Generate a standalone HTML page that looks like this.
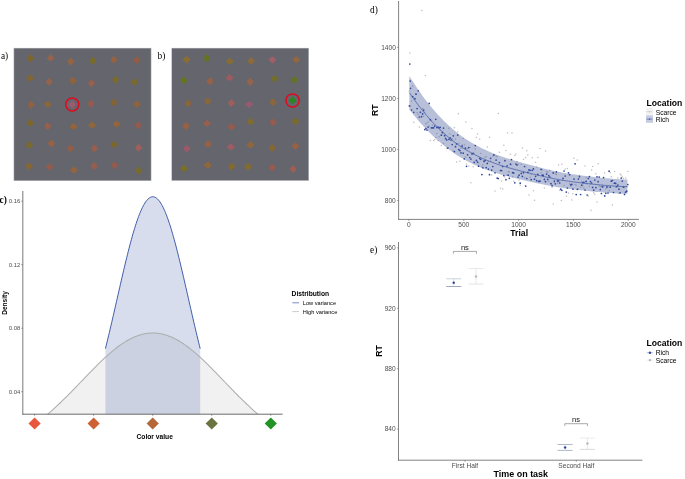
<!DOCTYPE html>
<html lang="en">
<head>
<meta charset="utf-8">
<title>Figure</title>
<style>
html,body{margin:0;padding:0;background:#fff;}
body{width:685px;height:479px;overflow:hidden;}
svg{display:block;}
text{font-family:"Liberation Sans", Arial, sans-serif;}
.serif{font-family:"Liberation Serif", "Times New Roman", serif;}
.tick{font-size:6.6px;fill:#4d4d4d;}
.tickc{font-size:5.9px;fill:#4d4d4d;}
.ttl{font-size:8.6px;font-weight:bold;fill:#000;}
.ttlc{font-size:6.7px;font-weight:bold;fill:#000;}
.leg{font-size:6.7px;fill:#000;}
.legc{font-size:5.65px;fill:#000;}
</style>
</head>
<body>
<svg width="685" height="479" viewBox="0 0 685 479">
<rect x="0" y="0" width="685" height="479" fill="#ffffff"/>

<rect x="13.6" y="47.9" width="137.8" height="133.0" fill="#b4b5ba"/>
<rect x="14.2" y="48.5" width="136.6" height="131.8" fill="#64656d"/>
<path d="M-2.85,-2.85 L0.15,-2.85 Q2.85,-2.85 2.85,-0.15 L2.85,2.85 L-2.85,2.85 Z" fill="#7e672d" transform="translate(30.3,58.3) rotate(223)"/>
<path d="M-2.85,-2.85 L0.15,-2.85 Q2.85,-2.85 2.85,-0.15 L2.85,2.85 L-2.85,2.85 Z" fill="#93634e" transform="translate(50.7,58.1) rotate(130)"/>
<path d="M-2.85,-2.85 L0.15,-2.85 Q2.85,-2.85 2.85,-0.15 L2.85,2.85 L-2.85,2.85 Z" fill="#936442" transform="translate(70.6,61.5) rotate(227)"/>
<path d="M-2.85,-2.85 L0.15,-2.85 Q2.85,-2.85 2.85,-0.15 L2.85,2.85 L-2.85,2.85 Z" fill="#796b2e" transform="translate(92.9,60.8) rotate(39)"/>
<path d="M-2.85,-2.85 L0.15,-2.85 Q2.85,-2.85 2.85,-0.15 L2.85,2.85 L-2.85,2.85 Z" fill="#936342" transform="translate(113.7,59.7) rotate(226)"/>
<path d="M-2.85,-2.85 L0.15,-2.85 Q2.85,-2.85 2.85,-0.15 L2.85,2.85 L-2.85,2.85 Z" fill="#935d45" transform="translate(136.8,60.4) rotate(133)"/>
<path d="M-2.85,-2.85 L0.15,-2.85 Q2.85,-2.85 2.85,-0.15 L2.85,2.85 L-2.85,2.85 Z" fill="#816733" transform="translate(30.3,78.3) rotate(129)"/>
<path d="M-2.85,-2.85 L0.15,-2.85 Q2.85,-2.85 2.85,-0.15 L2.85,2.85 L-2.85,2.85 Z" fill="#93634e" transform="translate(49.0,81.8) rotate(225)"/>
<path d="M-2.85,-2.85 L0.15,-2.85 Q2.85,-2.85 2.85,-0.15 L2.85,2.85 L-2.85,2.85 Z" fill="#90633d" transform="translate(72.8,80.8) rotate(219)"/>
<path d="M-2.85,-2.85 L0.15,-2.85 Q2.85,-2.85 2.85,-0.15 L2.85,2.85 L-2.85,2.85 Z" fill="#965f4e" transform="translate(91.4,83.3) rotate(224)"/>
<path d="M-2.85,-2.85 L0.15,-2.85 Q2.85,-2.85 2.85,-0.15 L2.85,2.85 L-2.85,2.85 Z" fill="#796b2e" transform="translate(115.5,79.8) rotate(219)"/>
<path d="M-2.85,-2.85 L0.15,-2.85 Q2.85,-2.85 2.85,-0.15 L2.85,2.85 L-2.85,2.85 Z" fill="#796b2e" transform="translate(134.5,82.2) rotate(129)"/>
<path d="M-2.85,-2.85 L0.15,-2.85 Q2.85,-2.85 2.85,-0.15 L2.85,2.85 L-2.85,2.85 Z" fill="#906245" transform="translate(30.9,104.9) rotate(224)"/>
<path d="M-2.85,-2.85 L0.15,-2.85 Q2.85,-2.85 2.85,-0.15 L2.85,2.85 L-2.85,2.85 Z" fill="#8a673b" transform="translate(47.8,104.2) rotate(-40)"/>
<path d="M-2.85,-2.85 L0.15,-2.85 Q2.85,-2.85 2.85,-0.15 L2.85,2.85 L-2.85,2.85 Z" fill="#9a5c6e" transform="translate(72.3,104.6) rotate(40)"/>
<path d="M-2.85,-2.85 L0.15,-2.85 Q2.85,-2.85 2.85,-0.15 L2.85,2.85 L-2.85,2.85 Z" fill="#965b4c" transform="translate(91.1,103.8) rotate(41)"/>
<path d="M-2.85,-2.85 L0.15,-2.85 Q2.85,-2.85 2.85,-0.15 L2.85,2.85 L-2.85,2.85 Z" fill="#856337" transform="translate(113.6,102.4) rotate(227)"/>
<path d="M-2.85,-2.85 L0.15,-2.85 Q2.85,-2.85 2.85,-0.15 L2.85,2.85 L-2.85,2.85 Z" fill="#90633d" transform="translate(137.0,104.2) rotate(231)"/>
<path d="M-2.85,-2.85 L0.15,-2.85 Q2.85,-2.85 2.85,-0.15 L2.85,2.85 L-2.85,2.85 Z" fill="#7e672d" transform="translate(30.3,123.2) rotate(136)"/>
<path d="M-2.85,-2.85 L0.15,-2.85 Q2.85,-2.85 2.85,-0.15 L2.85,2.85 L-2.85,2.85 Z" fill="#965f4e" transform="translate(47.6,126.1) rotate(224)"/>
<path d="M-2.85,-2.85 L0.15,-2.85 Q2.85,-2.85 2.85,-0.15 L2.85,2.85 L-2.85,2.85 Z" fill="#93643b" transform="translate(73.5,126.7) rotate(142)"/>
<path d="M-2.85,-2.85 L0.15,-2.85 Q2.85,-2.85 2.85,-0.15 L2.85,2.85 L-2.85,2.85 Z" fill="#90673b" transform="translate(92.1,125.3) rotate(129)"/>
<path d="M-2.85,-2.85 L0.15,-2.85 Q2.85,-2.85 2.85,-0.15 L2.85,2.85 L-2.85,2.85 Z" fill="#93643d" transform="translate(116.7,124.1) rotate(-40)"/>
<path d="M-2.85,-2.85 L0.15,-2.85 Q2.85,-2.85 2.85,-0.15 L2.85,2.85 L-2.85,2.85 Z" fill="#935b4e" transform="translate(138.2,125.3) rotate(42)"/>
<path d="M-2.85,-2.85 L0.15,-2.85 Q2.85,-2.85 2.85,-0.15 L2.85,2.85 L-2.85,2.85 Z" fill="#796b2e" transform="translate(29.2,145.1) rotate(220)"/>
<path d="M-2.85,-2.85 L0.15,-2.85 Q2.85,-2.85 2.85,-0.15 L2.85,2.85 L-2.85,2.85 Z" fill="#966245" transform="translate(51.5,143.5) rotate(40)"/>
<path d="M-2.85,-2.85 L0.15,-2.85 Q2.85,-2.85 2.85,-0.15 L2.85,2.85 L-2.85,2.85 Z" fill="#935e46" transform="translate(70.4,148.6) rotate(132)"/>
<path d="M-2.85,-2.85 L0.15,-2.85 Q2.85,-2.85 2.85,-0.15 L2.85,2.85 L-2.85,2.85 Z" fill="#965f4e" transform="translate(94.4,148.4) rotate(229)"/>
<path d="M-2.85,-2.85 L0.15,-2.85 Q2.85,-2.85 2.85,-0.15 L2.85,2.85 L-2.85,2.85 Z" fill="#7e672d" transform="translate(114.2,144.7) rotate(131)"/>
<path d="M-2.85,-2.85 L0.15,-2.85 Q2.85,-2.85 2.85,-0.15 L2.85,2.85 L-2.85,2.85 Z" fill="#9e605a" transform="translate(138.5,147.8) rotate(226)"/>
<path d="M-2.85,-2.85 L0.15,-2.85 Q2.85,-2.85 2.85,-0.15 L2.85,2.85 L-2.85,2.85 Z" fill="#856734" transform="translate(28.9,166.2) rotate(227)"/>
<path d="M-2.85,-2.85 L0.15,-2.85 Q2.85,-2.85 2.85,-0.15 L2.85,2.85 L-2.85,2.85 Z" fill="#935b4e" transform="translate(49.6,166.9) rotate(-47)"/>
<path d="M-2.85,-2.85 L0.15,-2.85 Q2.85,-2.85 2.85,-0.15 L2.85,2.85 L-2.85,2.85 Z" fill="#93643d" transform="translate(73.9,170.2) rotate(136)"/>
<path d="M-2.85,-2.85 L0.15,-2.85 Q2.85,-2.85 2.85,-0.15 L2.85,2.85 L-2.85,2.85 Z" fill="#965e4e" transform="translate(94.3,165.9) rotate(39)"/>
<path d="M-2.85,-2.85 L0.15,-2.85 Q2.85,-2.85 2.85,-0.15 L2.85,2.85 L-2.85,2.85 Z" fill="#935b4e" transform="translate(114.5,165.3) rotate(219)"/>
<path d="M-2.85,-2.85 L0.15,-2.85 Q2.85,-2.85 2.85,-0.15 L2.85,2.85 L-2.85,2.85 Z" fill="#796b2e" transform="translate(138.6,170.5) rotate(221)"/>
<circle cx="72.3" cy="104.5" r="6.5" fill="none" stroke="#e20a1c" stroke-width="1.5"/>
<rect x="171.4" y="47.9" width="137.5" height="132.9" fill="#b4b5ba"/>
<rect x="172.0" y="48.5" width="136.3" height="131.7" fill="#64656d"/>
<path d="M-2.85,-2.85 L0.15,-2.85 Q2.85,-2.85 2.85,-0.15 L2.85,2.85 L-2.85,2.85 Z" fill="#8a6c34" transform="translate(186.6,59.4) rotate(-42)"/>
<path d="M-2.85,-2.85 L0.15,-2.85 Q2.85,-2.85 2.85,-0.15 L2.85,2.85 L-2.85,2.85 Z" fill="#627323" transform="translate(207.0,58.1) rotate(44)"/>
<path d="M-2.85,-2.85 L0.15,-2.85 Q2.85,-2.85 2.85,-0.15 L2.85,2.85 L-2.85,2.85 Z" fill="#876c33" transform="translate(229.9,61.4) rotate(132)"/>
<path d="M-2.85,-2.85 L0.15,-2.85 Q2.85,-2.85 2.85,-0.15 L2.85,2.85 L-2.85,2.85 Z" fill="#8b6a3b" transform="translate(251.0,61.1) rotate(136)"/>
<path d="M-2.85,-2.85 L0.15,-2.85 Q2.85,-2.85 2.85,-0.15 L2.85,2.85 L-2.85,2.85 Z" fill="#9e5f69" transform="translate(272.4,59.6) rotate(-46)"/>
<path d="M-2.85,-2.85 L0.15,-2.85 Q2.85,-2.85 2.85,-0.15 L2.85,2.85 L-2.85,2.85 Z" fill="#906740" transform="translate(296.2,59.6) rotate(-48)"/>
<path d="M-2.85,-2.85 L0.15,-2.85 Q2.85,-2.85 2.85,-0.15 L2.85,2.85 L-2.85,2.85 Z" fill="#627323" transform="translate(184.0,80.4) rotate(49)"/>
<path d="M-2.85,-2.85 L0.15,-2.85 Q2.85,-2.85 2.85,-0.15 L2.85,2.85 L-2.85,2.85 Z" fill="#966245" transform="translate(210.2,81.3) rotate(48)"/>
<path d="M-2.85,-2.85 L0.15,-2.85 Q2.85,-2.85 2.85,-0.15 L2.85,2.85 L-2.85,2.85 Z" fill="#9c5b61" transform="translate(229.5,77.9) rotate(131)"/>
<path d="M-2.85,-2.85 L0.15,-2.85 Q2.85,-2.85 2.85,-0.15 L2.85,2.85 L-2.85,2.85 Z" fill="#96634c" transform="translate(250.3,81.9) rotate(46)"/>
<path d="M-2.85,-2.85 L0.15,-2.85 Q2.85,-2.85 2.85,-0.15 L2.85,2.85 L-2.85,2.85 Z" fill="#726f2a" transform="translate(274.6,78.6) rotate(-45)"/>
<path d="M-2.85,-2.85 L0.15,-2.85 Q2.85,-2.85 2.85,-0.15 L2.85,2.85 L-2.85,2.85 Z" fill="#627323" transform="translate(294.4,80.0) rotate(140)"/>
<path d="M-2.85,-2.85 L0.15,-2.85 Q2.85,-2.85 2.85,-0.15 L2.85,2.85 L-2.85,2.85 Z" fill="#8a643b" transform="translate(188.1,103.4) rotate(228)"/>
<path d="M-2.85,-2.85 L0.15,-2.85 Q2.85,-2.85 2.85,-0.15 L2.85,2.85 L-2.85,2.85 Z" fill="#87673b" transform="translate(207.6,101.2) rotate(222)"/>
<path d="M-2.85,-2.85 L0.15,-2.85 Q2.85,-2.85 2.85,-0.15 L2.85,2.85 L-2.85,2.85 Z" fill="#9e5e5c" transform="translate(231.3,103.1) rotate(232)"/>
<path d="M-2.85,-2.85 L0.15,-2.85 Q2.85,-2.85 2.85,-0.15 L2.85,2.85 L-2.85,2.85 Z" fill="#965b6f" transform="translate(249.1,104.2) rotate(-50)"/>
<path d="M-2.85,-2.85 L0.15,-2.85 Q2.85,-2.85 2.85,-0.15 L2.85,2.85 L-2.85,2.85 Z" fill="#8a673b" transform="translate(272.8,102.3) rotate(224)"/>
<path d="M-2.85,-2.85 L0.15,-2.85 Q2.85,-2.85 2.85,-0.15 L2.85,2.85 L-2.85,2.85 Z" fill="#2a8723" transform="translate(292.6,100.6) rotate(139)"/>
<path d="M-2.85,-2.85 L0.15,-2.85 Q2.85,-2.85 2.85,-0.15 L2.85,2.85 L-2.85,2.85 Z" fill="#966245" transform="translate(186.2,125.9) rotate(40)"/>
<path d="M-2.85,-2.85 L0.15,-2.85 Q2.85,-2.85 2.85,-0.15 L2.85,2.85 L-2.85,2.85 Z" fill="#965f4e" transform="translate(207.0,123.5) rotate(135)"/>
<path d="M-2.85,-2.85 L0.15,-2.85 Q2.85,-2.85 2.85,-0.15 L2.85,2.85 L-2.85,2.85 Z" fill="#965b4e" transform="translate(231.4,126.8) rotate(-51)"/>
<path d="M-2.85,-2.85 L0.15,-2.85 Q2.85,-2.85 2.85,-0.15 L2.85,2.85 L-2.85,2.85 Z" fill="#816b2e" transform="translate(250.5,121.9) rotate(137)"/>
<path d="M-2.85,-2.85 L0.15,-2.85 Q2.85,-2.85 2.85,-0.15 L2.85,2.85 L-2.85,2.85 Z" fill="#965b4e" transform="translate(272.8,122.3) rotate(229)"/>
<path d="M-2.85,-2.85 L0.15,-2.85 Q2.85,-2.85 2.85,-0.15 L2.85,2.85 L-2.85,2.85 Z" fill="#796b2e" transform="translate(295.4,121.4) rotate(136)"/>
<path d="M-2.85,-2.85 L0.15,-2.85 Q2.85,-2.85 2.85,-0.15 L2.85,2.85 L-2.85,2.85 Z" fill="#9b596c" transform="translate(186.7,148.7) rotate(230)"/>
<path d="M-2.85,-2.85 L0.15,-2.85 Q2.85,-2.85 2.85,-0.15 L2.85,2.85 L-2.85,2.85 Z" fill="#966245" transform="translate(208.2,144.3) rotate(132)"/>
<path d="M-2.85,-2.85 L0.15,-2.85 Q2.85,-2.85 2.85,-0.15 L2.85,2.85 L-2.85,2.85 Z" fill="#9e5c64" transform="translate(230.8,147.1) rotate(138)"/>
<path d="M-2.85,-2.85 L0.15,-2.85 Q2.85,-2.85 2.85,-0.15 L2.85,2.85 L-2.85,2.85 Z" fill="#90673b" transform="translate(250.5,145.0) rotate(136)"/>
<path d="M-2.85,-2.85 L0.15,-2.85 Q2.85,-2.85 2.85,-0.15 L2.85,2.85 L-2.85,2.85 Z" fill="#856734" transform="translate(272.1,148.0) rotate(226)"/>
<path d="M-2.85,-2.85 L0.15,-2.85 Q2.85,-2.85 2.85,-0.15 L2.85,2.85 L-2.85,2.85 Z" fill="#966245" transform="translate(295.4,146.0) rotate(-46)"/>
<path d="M-2.85,-2.85 L0.15,-2.85 Q2.85,-2.85 2.85,-0.15 L2.85,2.85 L-2.85,2.85 Z" fill="#796f28" transform="translate(184.0,168.7) rotate(140)"/>
<path d="M-2.85,-2.85 L0.15,-2.85 Q2.85,-2.85 2.85,-0.15 L2.85,2.85 L-2.85,2.85 Z" fill="#90673b" transform="translate(207.8,165.3) rotate(141)"/>
<path d="M-2.85,-2.85 L0.15,-2.85 Q2.85,-2.85 2.85,-0.15 L2.85,2.85 L-2.85,2.85 Z" fill="#816b2e" transform="translate(231.5,166.6) rotate(225)"/>
<path d="M-2.85,-2.85 L0.15,-2.85 Q2.85,-2.85 2.85,-0.15 L2.85,2.85 L-2.85,2.85 Z" fill="#816b2e" transform="translate(248.3,166.9) rotate(137)"/>
<path d="M-2.85,-2.85 L0.15,-2.85 Q2.85,-2.85 2.85,-0.15 L2.85,2.85 L-2.85,2.85 Z" fill="#965b4e" transform="translate(272.1,167.6) rotate(219)"/>
<path d="M-2.85,-2.85 L0.15,-2.85 Q2.85,-2.85 2.85,-0.15 L2.85,2.85 L-2.85,2.85 Z" fill="#9e5e54" transform="translate(293.2,169.0) rotate(48)"/>
<circle cx="292.6" cy="100.5" r="6.6" fill="none" stroke="#e20a1c" stroke-width="1.5"/>
<text class="serif" x="0.9" y="59.3" font-size="9.3">a)</text>
<text class="serif" x="157.6" y="59.3" font-size="9.3">b)</text>
<text class="serif" x="-0.4" y="202.8" font-size="9.3" font-weight="bold">c)</text>
<text class="serif" x="370" y="12.6" font-size="9.3">d)</text>
<text class="serif" x="370" y="253" font-size="9.3">e)</text>
<polygon points="47.71,414.20 49.02,413.07 50.33,411.93 51.65,410.77 52.96,409.59 54.28,408.40 55.59,407.20 56.90,405.98 58.22,404.74 59.53,403.50 60.84,402.24 62.16,400.96 63.47,399.68 64.78,398.39 66.10,397.08 67.41,395.77 68.73,394.45 70.04,393.11 71.35,391.78 72.67,390.43 73.98,389.08 75.29,387.72 76.61,386.36 77.92,385.00 79.23,383.63 80.55,382.26 81.86,380.89 83.18,379.52 84.49,378.15 85.80,376.79 87.12,375.42 88.43,374.06 89.74,372.71 91.06,371.36 92.37,370.02 93.69,368.68 95.00,367.36 96.31,366.05 97.63,364.74 98.94,363.45 100.25,362.18 101.57,360.91 102.88,359.66 104.19,358.43 105.51,357.22 106.82,356.03 108.14,354.85 109.45,353.70 110.76,352.56 112.08,351.45 113.39,350.37 114.70,349.31 116.02,348.27 117.33,347.26 118.64,346.28 119.96,345.33 121.27,344.41 122.59,343.52 123.90,342.65 125.21,341.83 126.53,341.03 127.84,340.27 129.15,339.54 130.47,338.85 131.78,338.19 133.10,337.57 134.41,336.98 135.72,336.44 137.04,335.93 138.35,335.46 139.66,335.03 140.98,334.64 142.29,334.29 143.60,333.98 144.92,333.71 146.23,333.48 147.55,333.30 148.86,333.15 150.17,333.05 151.49,332.98 152.80,332.96 154.11,332.98 155.43,333.05 156.74,333.15 158.05,333.30 159.37,333.48 160.68,333.71 162.00,333.98 163.31,334.29 164.62,334.64 165.94,335.03 167.25,335.46 168.56,335.93 169.88,336.44 171.19,336.98 172.50,337.57 173.82,338.19 175.13,338.85 176.45,339.54 177.76,340.27 179.07,341.03 180.39,341.83 181.70,342.65 183.01,343.52 184.33,344.41 185.64,345.33 186.96,346.28 188.27,347.26 189.58,348.27 190.90,349.31 192.21,350.37 193.52,351.45 194.84,352.56 196.15,353.70 197.46,354.85 198.78,356.03 200.09,357.22 201.41,358.43 202.72,359.66 204.03,360.91 205.35,362.18 206.66,363.45 207.97,364.74 209.29,366.05 210.60,367.36 211.91,368.68 213.23,370.02 214.54,371.36 215.86,372.71 217.17,374.06 218.48,375.42 219.80,376.79 221.11,378.15 222.42,379.52 223.74,380.89 225.05,382.26 226.37,383.63 227.68,385.00 228.99,386.36 230.31,387.72 231.62,389.08 232.93,390.43 234.25,391.78 235.56,393.11 236.87,394.45 238.19,395.77 239.50,397.08 240.82,398.39 242.13,399.68 243.44,400.96 244.76,402.24 246.07,403.50 247.38,404.74 248.70,405.98 250.01,407.20 251.32,408.40 252.64,409.59 253.95,410.77 255.27,411.93 256.58,413.07 257.89,414.20" fill="#808080" fill-opacity="0.115"/>
<polygon points="105.40,414.20 105.40,348.68 106.19,345.52 106.98,342.31 107.77,339.07 108.56,335.79 109.35,332.48 110.14,329.15 110.93,325.78 111.72,322.39 112.51,318.98 113.30,315.55 114.09,312.11 114.88,308.65 115.67,305.18 116.46,301.70 117.25,298.23 118.04,294.75 118.83,291.27 119.62,287.81 120.41,284.35 121.20,280.91 121.99,277.48 122.78,274.08 123.57,270.71 124.36,267.36 125.15,264.05 125.94,260.77 126.73,257.54 127.52,254.35 128.31,251.21 129.10,248.12 129.89,245.09 130.68,242.12 131.47,239.22 132.26,236.38 133.05,233.62 133.84,230.93 134.63,228.32 135.42,225.79 136.21,223.35 137.00,221.00 137.79,218.74 138.58,216.57 139.37,214.51 140.16,212.54 140.95,210.68 141.74,208.93 142.53,207.29 143.32,205.76 144.11,204.34 144.90,203.04 145.69,201.86 146.48,200.80 147.27,199.85 148.06,199.04 148.85,198.34 149.64,197.77 150.43,197.33 151.22,197.01 152.01,196.82 152.80,196.75 153.59,196.82 154.38,197.01 155.17,197.33 155.96,197.77 156.75,198.34 157.54,199.04 158.33,199.85 159.12,200.80 159.91,201.86 160.70,203.04 161.49,204.34 162.28,205.76 163.07,207.29 163.86,208.93 164.65,210.68 165.44,212.54 166.23,214.51 167.02,216.57 167.81,218.74 168.60,221.00 169.39,223.35 170.18,225.79 170.97,228.32 171.76,230.93 172.55,233.62 173.34,236.38 174.13,239.22 174.92,242.12 175.71,245.09 176.50,248.12 177.29,251.21 178.08,254.35 178.87,257.54 179.66,260.77 180.45,264.05 181.24,267.36 182.03,270.71 182.82,274.08 183.61,277.48 184.40,280.91 185.19,284.35 185.98,287.81 186.77,291.27 187.56,294.75 188.35,298.23 189.14,301.70 189.93,305.18 190.72,308.65 191.51,312.11 192.30,315.55 193.09,318.98 193.88,322.39 194.67,325.78 195.46,329.15 196.25,332.48 197.04,335.79 197.83,339.07 198.62,342.31 199.41,345.52 200.20,348.68 200.20,414.20" fill="#3c55a5" fill-opacity="0.2"/>
<polyline points="47.71,414.20 49.02,413.07 50.33,411.93 51.65,410.77 52.96,409.59 54.28,408.40 55.59,407.20 56.90,405.98 58.22,404.74 59.53,403.50 60.84,402.24 62.16,400.96 63.47,399.68 64.78,398.39 66.10,397.08 67.41,395.77 68.73,394.45 70.04,393.11 71.35,391.78 72.67,390.43 73.98,389.08 75.29,387.72 76.61,386.36 77.92,385.00 79.23,383.63 80.55,382.26 81.86,380.89 83.18,379.52 84.49,378.15 85.80,376.79 87.12,375.42 88.43,374.06 89.74,372.71 91.06,371.36 92.37,370.02 93.69,368.68 95.00,367.36 96.31,366.05 97.63,364.74 98.94,363.45 100.25,362.18 101.57,360.91 102.88,359.66 104.19,358.43 105.51,357.22 106.82,356.03 108.14,354.85 109.45,353.70 110.76,352.56 112.08,351.45 113.39,350.37 114.70,349.31 116.02,348.27 117.33,347.26 118.64,346.28 119.96,345.33 121.27,344.41 122.59,343.52 123.90,342.65 125.21,341.83 126.53,341.03 127.84,340.27 129.15,339.54 130.47,338.85 131.78,338.19 133.10,337.57 134.41,336.98 135.72,336.44 137.04,335.93 138.35,335.46 139.66,335.03 140.98,334.64 142.29,334.29 143.60,333.98 144.92,333.71 146.23,333.48 147.55,333.30 148.86,333.15 150.17,333.05 151.49,332.98 152.80,332.96 154.11,332.98 155.43,333.05 156.74,333.15 158.05,333.30 159.37,333.48 160.68,333.71 162.00,333.98 163.31,334.29 164.62,334.64 165.94,335.03 167.25,335.46 168.56,335.93 169.88,336.44 171.19,336.98 172.50,337.57 173.82,338.19 175.13,338.85 176.45,339.54 177.76,340.27 179.07,341.03 180.39,341.83 181.70,342.65 183.01,343.52 184.33,344.41 185.64,345.33 186.96,346.28 188.27,347.26 189.58,348.27 190.90,349.31 192.21,350.37 193.52,351.45 194.84,352.56 196.15,353.70 197.46,354.85 198.78,356.03 200.09,357.22 201.41,358.43 202.72,359.66 204.03,360.91 205.35,362.18 206.66,363.45 207.97,364.74 209.29,366.05 210.60,367.36 211.91,368.68 213.23,370.02 214.54,371.36 215.86,372.71 217.17,374.06 218.48,375.42 219.80,376.79 221.11,378.15 222.42,379.52 223.74,380.89 225.05,382.26 226.37,383.63 227.68,385.00 228.99,386.36 230.31,387.72 231.62,389.08 232.93,390.43 234.25,391.78 235.56,393.11 236.87,394.45 238.19,395.77 239.50,397.08 240.82,398.39 242.13,399.68 243.44,400.96 244.76,402.24 246.07,403.50 247.38,404.74 248.70,405.98 250.01,407.20 251.32,408.40 252.64,409.59 253.95,410.77 255.27,411.93 256.58,413.07 257.89,414.20" fill="none" stroke="#adadad" stroke-width="1.05"/>
<polyline points="105.40,348.68 106.19,345.52 106.98,342.31 107.77,339.07 108.56,335.79 109.35,332.48 110.14,329.15 110.93,325.78 111.72,322.39 112.51,318.98 113.30,315.55 114.09,312.11 114.88,308.65 115.67,305.18 116.46,301.70 117.25,298.23 118.04,294.75 118.83,291.27 119.62,287.81 120.41,284.35 121.20,280.91 121.99,277.48 122.78,274.08 123.57,270.71 124.36,267.36 125.15,264.05 125.94,260.77 126.73,257.54 127.52,254.35 128.31,251.21 129.10,248.12 129.89,245.09 130.68,242.12 131.47,239.22 132.26,236.38 133.05,233.62 133.84,230.93 134.63,228.32 135.42,225.79 136.21,223.35 137.00,221.00 137.79,218.74 138.58,216.57 139.37,214.51 140.16,212.54 140.95,210.68 141.74,208.93 142.53,207.29 143.32,205.76 144.11,204.34 144.90,203.04 145.69,201.86 146.48,200.80 147.27,199.85 148.06,199.04 148.85,198.34 149.64,197.77 150.43,197.33 151.22,197.01 152.01,196.82 152.80,196.75 153.59,196.82 154.38,197.01 155.17,197.33 155.96,197.77 156.75,198.34 157.54,199.04 158.33,199.85 159.12,200.80 159.91,201.86 160.70,203.04 161.49,204.34 162.28,205.76 163.07,207.29 163.86,208.93 164.65,210.68 165.44,212.54 166.23,214.51 167.02,216.57 167.81,218.74 168.60,221.00 169.39,223.35 170.18,225.79 170.97,228.32 171.76,230.93 172.55,233.62 173.34,236.38 174.13,239.22 174.92,242.12 175.71,245.09 176.50,248.12 177.29,251.21 178.08,254.35 178.87,257.54 179.66,260.77 180.45,264.05 181.24,267.36 182.03,270.71 182.82,274.08 183.61,277.48 184.40,280.91 185.19,284.35 185.98,287.81 186.77,291.27 187.56,294.75 188.35,298.23 189.14,301.70 189.93,305.18 190.72,308.65 191.51,312.11 192.30,315.55 193.09,318.98 193.88,322.39 194.67,325.78 195.46,329.15 196.25,332.48 197.04,335.79 197.83,339.07 198.62,342.31 199.41,345.52 200.20,348.68" fill="none" stroke="#2f4d9e" stroke-width="0.9" stroke-linejoin="round"/>
<line x1="22.8" y1="191.0" x2="22.8" y2="414.59999999999997" stroke="#848484" stroke-width="1.1"/>
<line x1="22.400000000000002" y1="414.2" x2="282.6" y2="414.2" stroke="#5a5a5a" stroke-width="0.9"/>
<line x1="21.2" y1="201.20" x2="22.8" y2="201.20" stroke="#444" stroke-width="0.5"/>
<text class="tickc" x="20.3" y="203.40" text-anchor="end">0.16</text>
<line x1="21.2" y1="264.70" x2="22.8" y2="264.70" stroke="#444" stroke-width="0.5"/>
<text class="tickc" x="20.3" y="266.90" text-anchor="end">0.12</text>
<line x1="21.2" y1="328.20" x2="22.8" y2="328.20" stroke="#444" stroke-width="0.5"/>
<text class="tickc" x="20.3" y="330.40" text-anchor="end">0.08</text>
<line x1="21.2" y1="391.70" x2="22.8" y2="391.70" stroke="#444" stroke-width="0.5"/>
<text class="tickc" x="20.3" y="393.90" text-anchor="end">0.04</text>
<line x1="34.60" y1="414.2" x2="34.60" y2="415.8" stroke="#444" stroke-width="0.5"/>
<polygon points="34.60,417.40 40.70,423.5 34.60,429.60 28.50,423.5" fill="#e8563c"/>
<line x1="93.65" y1="414.2" x2="93.65" y2="415.8" stroke="#444" stroke-width="0.5"/>
<polygon points="93.65,417.40 99.75,423.5 93.65,429.60 87.55,423.5" fill="#cd6133"/>
<line x1="152.70" y1="414.2" x2="152.70" y2="415.8" stroke="#444" stroke-width="0.5"/>
<polygon points="152.70,417.40 158.80,423.5 152.70,429.60 146.60,423.5" fill="#b5693a"/>
<line x1="211.75" y1="414.2" x2="211.75" y2="415.8" stroke="#444" stroke-width="0.5"/>
<polygon points="211.75,417.40 217.85,423.5 211.75,429.60 205.65,423.5" fill="#6b7340"/>
<line x1="270.80" y1="414.2" x2="270.80" y2="415.8" stroke="#444" stroke-width="0.5"/>
<polygon points="270.80,417.40 276.90,423.5 270.80,429.60 264.70,423.5" fill="#239323"/>
<text class="ttlc" x="154.7" y="438.6" text-anchor="middle">Color value</text>
<text class="ttlc" transform="translate(7.1,303.0) rotate(-90)" text-anchor="middle" style="font-size:6.5px">Density</text>
<text class="ttlc" x="291.6" y="295.6">Distribution</text>
<line x1="292.3" y1="302.8" x2="299" y2="302.8" stroke="#6d80bd" stroke-width="0.9"/>
<line x1="292.3" y1="311.6" x2="299" y2="311.6" stroke="#b4b4b4" stroke-width="0.7"/>
<text class="legc" x="302.8" y="305.1">Low variance</text>
<text class="legc" x="302.8" y="313.5">High variance</text>
<circle cx="409.4" cy="91.1" r="0.75" fill="#bdbdbd"/>
<circle cx="410.5" cy="106.2" r="0.75" fill="#bdbdbd"/>
<circle cx="411.6" cy="101.3" r="0.75" fill="#bdbdbd"/>
<circle cx="412.7" cy="86.3" r="0.75" fill="#bdbdbd"/>
<circle cx="413.8" cy="122.2" r="0.75" fill="#bdbdbd"/>
<circle cx="414.9" cy="99.0" r="0.75" fill="#bdbdbd"/>
<circle cx="416.0" cy="93.9" r="0.75" fill="#bdbdbd"/>
<circle cx="417.1" cy="112.7" r="0.75" fill="#bdbdbd"/>
<circle cx="418.2" cy="114.5" r="0.75" fill="#bdbdbd"/>
<circle cx="419.3" cy="127.0" r="0.75" fill="#bdbdbd"/>
<circle cx="420.4" cy="112.1" r="0.75" fill="#bdbdbd"/>
<circle cx="421.5" cy="116.4" r="0.75" fill="#bdbdbd"/>
<circle cx="422.6" cy="108.8" r="0.75" fill="#bdbdbd"/>
<circle cx="423.7" cy="116.3" r="0.75" fill="#bdbdbd"/>
<circle cx="424.8" cy="112.2" r="0.75" fill="#bdbdbd"/>
<circle cx="425.9" cy="123.7" r="0.75" fill="#bdbdbd"/>
<circle cx="427.0" cy="123.0" r="0.75" fill="#bdbdbd"/>
<circle cx="428.1" cy="122.0" r="0.75" fill="#bdbdbd"/>
<circle cx="429.2" cy="126.0" r="0.75" fill="#bdbdbd"/>
<circle cx="430.3" cy="140.4" r="0.75" fill="#bdbdbd"/>
<circle cx="431.4" cy="121.1" r="0.75" fill="#bdbdbd"/>
<circle cx="432.5" cy="125.3" r="0.75" fill="#bdbdbd"/>
<circle cx="433.6" cy="140.5" r="0.75" fill="#bdbdbd"/>
<circle cx="434.7" cy="139.6" r="0.75" fill="#bdbdbd"/>
<circle cx="435.8" cy="137.6" r="0.75" fill="#bdbdbd"/>
<circle cx="436.9" cy="133.4" r="0.75" fill="#bdbdbd"/>
<circle cx="438.0" cy="140.7" r="0.75" fill="#bdbdbd"/>
<circle cx="439.1" cy="136.8" r="0.75" fill="#bdbdbd"/>
<circle cx="440.2" cy="130.1" r="0.75" fill="#bdbdbd"/>
<circle cx="441.3" cy="145.6" r="0.75" fill="#bdbdbd"/>
<circle cx="442.4" cy="133.7" r="0.75" fill="#bdbdbd"/>
<circle cx="443.5" cy="143.4" r="0.75" fill="#bdbdbd"/>
<circle cx="444.6" cy="135.2" r="0.75" fill="#bdbdbd"/>
<circle cx="445.6" cy="139.2" r="0.75" fill="#bdbdbd"/>
<circle cx="446.7" cy="148.6" r="0.75" fill="#bdbdbd"/>
<circle cx="447.8" cy="147.4" r="0.75" fill="#bdbdbd"/>
<circle cx="448.9" cy="128.3" r="0.75" fill="#bdbdbd"/>
<circle cx="450.0" cy="134.0" r="0.75" fill="#bdbdbd"/>
<circle cx="451.1" cy="138.6" r="0.75" fill="#bdbdbd"/>
<circle cx="452.2" cy="138.7" r="0.75" fill="#bdbdbd"/>
<circle cx="453.3" cy="151.1" r="0.75" fill="#bdbdbd"/>
<circle cx="454.4" cy="127.7" r="0.75" fill="#bdbdbd"/>
<circle cx="455.5" cy="139.0" r="0.75" fill="#bdbdbd"/>
<circle cx="456.6" cy="162.1" r="0.75" fill="#bdbdbd"/>
<circle cx="457.7" cy="132.0" r="0.75" fill="#bdbdbd"/>
<circle cx="458.8" cy="143.4" r="0.75" fill="#bdbdbd"/>
<circle cx="459.9" cy="161.3" r="0.75" fill="#bdbdbd"/>
<circle cx="461.0" cy="148.3" r="0.75" fill="#bdbdbd"/>
<circle cx="462.1" cy="145.1" r="0.75" fill="#bdbdbd"/>
<circle cx="463.2" cy="138.6" r="0.75" fill="#bdbdbd"/>
<circle cx="464.3" cy="144.9" r="0.75" fill="#bdbdbd"/>
<circle cx="465.4" cy="157.0" r="0.75" fill="#bdbdbd"/>
<circle cx="466.5" cy="164.1" r="0.75" fill="#bdbdbd"/>
<circle cx="467.6" cy="148.5" r="0.75" fill="#bdbdbd"/>
<circle cx="468.7" cy="166.1" r="0.75" fill="#bdbdbd"/>
<circle cx="469.8" cy="147.6" r="0.75" fill="#bdbdbd"/>
<circle cx="470.9" cy="182.7" r="0.75" fill="#bdbdbd"/>
<circle cx="472.0" cy="128.6" r="0.75" fill="#bdbdbd"/>
<circle cx="473.1" cy="166.7" r="0.75" fill="#bdbdbd"/>
<circle cx="474.2" cy="153.5" r="0.75" fill="#bdbdbd"/>
<circle cx="475.3" cy="148.9" r="0.75" fill="#bdbdbd"/>
<circle cx="476.4" cy="137.6" r="0.75" fill="#bdbdbd"/>
<circle cx="477.5" cy="133.9" r="0.75" fill="#bdbdbd"/>
<circle cx="478.6" cy="163.0" r="0.75" fill="#bdbdbd"/>
<circle cx="479.7" cy="139.3" r="0.75" fill="#bdbdbd"/>
<circle cx="480.8" cy="153.6" r="0.75" fill="#bdbdbd"/>
<circle cx="481.9" cy="166.7" r="0.75" fill="#bdbdbd"/>
<circle cx="482.9" cy="164.7" r="0.75" fill="#bdbdbd"/>
<circle cx="484.0" cy="162.3" r="0.75" fill="#bdbdbd"/>
<circle cx="485.1" cy="156.9" r="0.75" fill="#bdbdbd"/>
<circle cx="486.2" cy="156.6" r="0.75" fill="#bdbdbd"/>
<circle cx="487.3" cy="146.9" r="0.75" fill="#bdbdbd"/>
<circle cx="488.4" cy="161.4" r="0.75" fill="#bdbdbd"/>
<circle cx="489.5" cy="137.2" r="0.75" fill="#bdbdbd"/>
<circle cx="490.6" cy="160.9" r="0.75" fill="#bdbdbd"/>
<circle cx="491.7" cy="175.0" r="0.75" fill="#bdbdbd"/>
<circle cx="492.8" cy="156.0" r="0.75" fill="#bdbdbd"/>
<circle cx="493.9" cy="155.5" r="0.75" fill="#bdbdbd"/>
<circle cx="495.0" cy="191.1" r="0.75" fill="#bdbdbd"/>
<circle cx="496.1" cy="156.3" r="0.75" fill="#bdbdbd"/>
<circle cx="497.2" cy="156.7" r="0.75" fill="#bdbdbd"/>
<circle cx="498.3" cy="113.6" r="0.75" fill="#bdbdbd"/>
<circle cx="499.4" cy="152.3" r="0.75" fill="#bdbdbd"/>
<circle cx="500.5" cy="188.3" r="0.75" fill="#bdbdbd"/>
<circle cx="501.6" cy="181.0" r="0.75" fill="#bdbdbd"/>
<circle cx="502.7" cy="189.0" r="0.75" fill="#bdbdbd"/>
<circle cx="503.8" cy="145.2" r="0.75" fill="#bdbdbd"/>
<circle cx="504.9" cy="177.1" r="0.75" fill="#bdbdbd"/>
<circle cx="506.0" cy="150.4" r="0.75" fill="#bdbdbd"/>
<circle cx="507.1" cy="175.2" r="0.75" fill="#bdbdbd"/>
<circle cx="508.2" cy="171.7" r="0.75" fill="#bdbdbd"/>
<circle cx="509.3" cy="171.8" r="0.75" fill="#bdbdbd"/>
<circle cx="510.4" cy="154.2" r="0.75" fill="#bdbdbd"/>
<circle cx="511.5" cy="164.7" r="0.75" fill="#bdbdbd"/>
<circle cx="512.6" cy="176.7" r="0.75" fill="#bdbdbd"/>
<circle cx="513.7" cy="181.3" r="0.75" fill="#bdbdbd"/>
<circle cx="514.8" cy="155.4" r="0.75" fill="#bdbdbd"/>
<circle cx="515.9" cy="153.9" r="0.75" fill="#bdbdbd"/>
<circle cx="517.0" cy="161.8" r="0.75" fill="#bdbdbd"/>
<circle cx="518.1" cy="164.2" r="0.75" fill="#bdbdbd"/>
<circle cx="519.1" cy="180.1" r="0.75" fill="#bdbdbd"/>
<circle cx="520.2" cy="185.2" r="0.75" fill="#bdbdbd"/>
<circle cx="521.3" cy="164.3" r="0.75" fill="#bdbdbd"/>
<circle cx="522.4" cy="148.0" r="0.75" fill="#bdbdbd"/>
<circle cx="523.5" cy="159.2" r="0.75" fill="#bdbdbd"/>
<circle cx="524.6" cy="177.7" r="0.75" fill="#bdbdbd"/>
<circle cx="525.7" cy="157.6" r="0.75" fill="#bdbdbd"/>
<circle cx="526.8" cy="150.7" r="0.75" fill="#bdbdbd"/>
<circle cx="527.9" cy="154.9" r="0.75" fill="#bdbdbd"/>
<circle cx="529.0" cy="195.1" r="0.75" fill="#bdbdbd"/>
<circle cx="530.1" cy="177.2" r="0.75" fill="#bdbdbd"/>
<circle cx="531.2" cy="174.4" r="0.75" fill="#bdbdbd"/>
<circle cx="532.3" cy="157.7" r="0.75" fill="#bdbdbd"/>
<circle cx="533.4" cy="190.8" r="0.75" fill="#bdbdbd"/>
<circle cx="534.5" cy="200.2" r="0.75" fill="#bdbdbd"/>
<circle cx="535.6" cy="162.2" r="0.75" fill="#bdbdbd"/>
<circle cx="536.7" cy="167.0" r="0.75" fill="#bdbdbd"/>
<circle cx="537.8" cy="157.5" r="0.75" fill="#bdbdbd"/>
<circle cx="538.9" cy="181.4" r="0.75" fill="#bdbdbd"/>
<circle cx="540.0" cy="148.5" r="0.75" fill="#bdbdbd"/>
<circle cx="541.1" cy="172.8" r="0.75" fill="#bdbdbd"/>
<circle cx="542.2" cy="170.0" r="0.75" fill="#bdbdbd"/>
<circle cx="543.3" cy="174.4" r="0.75" fill="#bdbdbd"/>
<circle cx="544.4" cy="188.1" r="0.75" fill="#bdbdbd"/>
<circle cx="545.5" cy="151.1" r="0.75" fill="#bdbdbd"/>
<circle cx="546.6" cy="171.7" r="0.75" fill="#bdbdbd"/>
<circle cx="547.7" cy="172.0" r="0.75" fill="#bdbdbd"/>
<circle cx="548.8" cy="181.3" r="0.75" fill="#bdbdbd"/>
<circle cx="549.9" cy="170.2" r="0.75" fill="#bdbdbd"/>
<circle cx="551.0" cy="183.6" r="0.75" fill="#bdbdbd"/>
<circle cx="552.1" cy="187.3" r="0.75" fill="#bdbdbd"/>
<circle cx="553.2" cy="203.9" r="0.75" fill="#bdbdbd"/>
<circle cx="554.3" cy="182.2" r="0.75" fill="#bdbdbd"/>
<circle cx="555.3" cy="173.7" r="0.75" fill="#bdbdbd"/>
<circle cx="556.4" cy="174.4" r="0.75" fill="#bdbdbd"/>
<circle cx="557.5" cy="183.2" r="0.75" fill="#bdbdbd"/>
<circle cx="558.6" cy="165.0" r="0.75" fill="#bdbdbd"/>
<circle cx="559.7" cy="190.2" r="0.75" fill="#bdbdbd"/>
<circle cx="560.8" cy="190.0" r="0.75" fill="#bdbdbd"/>
<circle cx="561.9" cy="164.2" r="0.75" fill="#bdbdbd"/>
<circle cx="563.0" cy="180.3" r="0.75" fill="#bdbdbd"/>
<circle cx="564.1" cy="185.5" r="0.75" fill="#bdbdbd"/>
<circle cx="565.2" cy="169.0" r="0.75" fill="#bdbdbd"/>
<circle cx="566.3" cy="196.3" r="0.75" fill="#bdbdbd"/>
<circle cx="567.4" cy="168.6" r="0.75" fill="#bdbdbd"/>
<circle cx="568.5" cy="192.9" r="0.75" fill="#bdbdbd"/>
<circle cx="569.6" cy="183.8" r="0.75" fill="#bdbdbd"/>
<circle cx="570.7" cy="185.9" r="0.75" fill="#bdbdbd"/>
<circle cx="571.8" cy="199.9" r="0.75" fill="#bdbdbd"/>
<circle cx="572.9" cy="193.8" r="0.75" fill="#bdbdbd"/>
<circle cx="574.0" cy="158.3" r="0.75" fill="#bdbdbd"/>
<circle cx="575.1" cy="184.4" r="0.75" fill="#bdbdbd"/>
<circle cx="576.2" cy="185.3" r="0.75" fill="#bdbdbd"/>
<circle cx="577.3" cy="159.9" r="0.75" fill="#bdbdbd"/>
<circle cx="578.4" cy="189.0" r="0.75" fill="#bdbdbd"/>
<circle cx="579.5" cy="175.6" r="0.75" fill="#bdbdbd"/>
<circle cx="580.6" cy="187.1" r="0.75" fill="#bdbdbd"/>
<circle cx="581.7" cy="181.4" r="0.75" fill="#bdbdbd"/>
<circle cx="582.8" cy="185.4" r="0.75" fill="#bdbdbd"/>
<circle cx="583.9" cy="188.1" r="0.75" fill="#bdbdbd"/>
<circle cx="585.0" cy="165.9" r="0.75" fill="#bdbdbd"/>
<circle cx="586.1" cy="177.5" r="0.75" fill="#bdbdbd"/>
<circle cx="587.2" cy="184.0" r="0.75" fill="#bdbdbd"/>
<circle cx="588.3" cy="196.0" r="0.75" fill="#bdbdbd"/>
<circle cx="589.4" cy="186.6" r="0.75" fill="#bdbdbd"/>
<circle cx="590.5" cy="184.0" r="0.75" fill="#bdbdbd"/>
<circle cx="591.6" cy="170.1" r="0.75" fill="#bdbdbd"/>
<circle cx="592.6" cy="166.4" r="0.75" fill="#bdbdbd"/>
<circle cx="593.7" cy="192.8" r="0.75" fill="#bdbdbd"/>
<circle cx="594.8" cy="194.3" r="0.75" fill="#bdbdbd"/>
<circle cx="595.9" cy="173.7" r="0.75" fill="#bdbdbd"/>
<circle cx="597.0" cy="202.0" r="0.75" fill="#bdbdbd"/>
<circle cx="598.1" cy="163.7" r="0.75" fill="#bdbdbd"/>
<circle cx="599.2" cy="186.1" r="0.75" fill="#bdbdbd"/>
<circle cx="600.3" cy="186.8" r="0.75" fill="#bdbdbd"/>
<circle cx="601.4" cy="186.5" r="0.75" fill="#bdbdbd"/>
<circle cx="602.5" cy="185.4" r="0.75" fill="#bdbdbd"/>
<circle cx="603.6" cy="186.4" r="0.75" fill="#bdbdbd"/>
<circle cx="604.7" cy="173.1" r="0.75" fill="#bdbdbd"/>
<circle cx="605.8" cy="188.8" r="0.75" fill="#bdbdbd"/>
<circle cx="606.9" cy="187.8" r="0.75" fill="#bdbdbd"/>
<circle cx="608.0" cy="186.9" r="0.75" fill="#bdbdbd"/>
<circle cx="609.1" cy="190.7" r="0.75" fill="#bdbdbd"/>
<circle cx="610.2" cy="172.8" r="0.75" fill="#bdbdbd"/>
<circle cx="611.3" cy="176.7" r="0.75" fill="#bdbdbd"/>
<circle cx="612.4" cy="205.0" r="0.75" fill="#bdbdbd"/>
<circle cx="613.5" cy="183.4" r="0.75" fill="#bdbdbd"/>
<circle cx="614.6" cy="171.4" r="0.75" fill="#bdbdbd"/>
<circle cx="615.7" cy="187.3" r="0.75" fill="#bdbdbd"/>
<circle cx="616.8" cy="187.1" r="0.75" fill="#bdbdbd"/>
<circle cx="617.9" cy="178.1" r="0.75" fill="#bdbdbd"/>
<circle cx="619.0" cy="193.5" r="0.75" fill="#bdbdbd"/>
<circle cx="620.1" cy="173.9" r="0.75" fill="#bdbdbd"/>
<circle cx="621.2" cy="175.0" r="0.75" fill="#bdbdbd"/>
<circle cx="622.3" cy="176.7" r="0.75" fill="#bdbdbd"/>
<circle cx="623.4" cy="178.5" r="0.75" fill="#bdbdbd"/>
<circle cx="624.5" cy="187.4" r="0.75" fill="#bdbdbd"/>
<circle cx="625.6" cy="177.9" r="0.75" fill="#bdbdbd"/>
<circle cx="626.7" cy="186.5" r="0.75" fill="#bdbdbd"/>
<circle cx="627.8" cy="171.6" r="0.75" fill="#bdbdbd"/>
<circle cx="421.8" cy="10.4" r="0.75" fill="#bdbdbd"/>
<circle cx="409.8" cy="53.0" r="0.75" fill="#bdbdbd"/>
<circle cx="425.4" cy="75.5" r="0.75" fill="#bdbdbd"/>
<circle cx="458.3" cy="113.8" r="0.75" fill="#bdbdbd"/>
<circle cx="465.9" cy="121.9" r="0.75" fill="#bdbdbd"/>
<circle cx="507.6" cy="132.9" r="0.75" fill="#bdbdbd"/>
<circle cx="512.0" cy="132.9" r="0.75" fill="#bdbdbd"/>
<circle cx="591.0" cy="210.2" r="0.75" fill="#bdbdbd"/>
<circle cx="561.4" cy="200.5" r="0.75" fill="#bdbdbd"/>
<circle cx="409.4" cy="105.9" r="0.85" fill="#2a419c"/>
<circle cx="410.5" cy="88.3" r="0.85" fill="#2a419c"/>
<circle cx="411.6" cy="110.0" r="0.85" fill="#2a419c"/>
<circle cx="412.7" cy="96.7" r="0.85" fill="#2a419c"/>
<circle cx="413.8" cy="112.3" r="0.85" fill="#2a419c"/>
<circle cx="414.9" cy="98.7" r="0.85" fill="#2a419c"/>
<circle cx="416.0" cy="94.2" r="0.85" fill="#2a419c"/>
<circle cx="417.1" cy="108.6" r="0.85" fill="#2a419c"/>
<circle cx="418.2" cy="90.8" r="0.85" fill="#2a419c"/>
<circle cx="419.3" cy="117.0" r="0.85" fill="#2a419c"/>
<circle cx="420.4" cy="112.3" r="0.85" fill="#2a419c"/>
<circle cx="421.5" cy="116.7" r="0.85" fill="#2a419c"/>
<circle cx="422.6" cy="113.9" r="0.85" fill="#2a419c"/>
<circle cx="423.7" cy="110.1" r="0.85" fill="#2a419c"/>
<circle cx="424.8" cy="129.6" r="0.85" fill="#2a419c"/>
<circle cx="425.9" cy="128.5" r="0.85" fill="#2a419c"/>
<circle cx="427.0" cy="130.1" r="0.85" fill="#2a419c"/>
<circle cx="428.1" cy="127.1" r="0.85" fill="#2a419c"/>
<circle cx="429.2" cy="103.4" r="0.85" fill="#2a419c"/>
<circle cx="430.3" cy="119.7" r="0.85" fill="#2a419c"/>
<circle cx="431.4" cy="127.8" r="0.85" fill="#2a419c"/>
<circle cx="432.5" cy="127.8" r="0.85" fill="#2a419c"/>
<circle cx="433.6" cy="127.8" r="0.85" fill="#2a419c"/>
<circle cx="434.7" cy="126.1" r="0.85" fill="#2a419c"/>
<circle cx="435.8" cy="119.3" r="0.85" fill="#2a419c"/>
<circle cx="436.9" cy="127.6" r="0.85" fill="#2a419c"/>
<circle cx="438.0" cy="127.1" r="0.85" fill="#2a419c"/>
<circle cx="439.1" cy="127.8" r="0.85" fill="#2a419c"/>
<circle cx="440.2" cy="127.3" r="0.85" fill="#2a419c"/>
<circle cx="441.3" cy="135.2" r="0.85" fill="#2a419c"/>
<circle cx="442.4" cy="132.4" r="0.85" fill="#2a419c"/>
<circle cx="443.5" cy="128.1" r="0.85" fill="#2a419c"/>
<circle cx="444.6" cy="135.7" r="0.85" fill="#2a419c"/>
<circle cx="445.6" cy="138.3" r="0.85" fill="#2a419c"/>
<circle cx="446.7" cy="139.9" r="0.85" fill="#2a419c"/>
<circle cx="447.8" cy="148.1" r="0.85" fill="#2a419c"/>
<circle cx="448.9" cy="139.3" r="0.85" fill="#2a419c"/>
<circle cx="450.0" cy="137.9" r="0.85" fill="#2a419c"/>
<circle cx="451.1" cy="140.0" r="0.85" fill="#2a419c"/>
<circle cx="452.2" cy="144.5" r="0.85" fill="#2a419c"/>
<circle cx="453.3" cy="135.8" r="0.85" fill="#2a419c"/>
<circle cx="454.4" cy="151.6" r="0.85" fill="#2a419c"/>
<circle cx="455.5" cy="146.7" r="0.85" fill="#2a419c"/>
<circle cx="456.6" cy="143.8" r="0.85" fill="#2a419c"/>
<circle cx="457.7" cy="135.1" r="0.85" fill="#2a419c"/>
<circle cx="458.8" cy="149.6" r="0.85" fill="#2a419c"/>
<circle cx="459.9" cy="150.6" r="0.85" fill="#2a419c"/>
<circle cx="461.0" cy="152.8" r="0.85" fill="#2a419c"/>
<circle cx="462.1" cy="146.1" r="0.85" fill="#2a419c"/>
<circle cx="463.2" cy="153.2" r="0.85" fill="#2a419c"/>
<circle cx="464.3" cy="158.8" r="0.85" fill="#2a419c"/>
<circle cx="465.4" cy="148.2" r="0.85" fill="#2a419c"/>
<circle cx="466.5" cy="166.3" r="0.85" fill="#2a419c"/>
<circle cx="467.6" cy="154.8" r="0.85" fill="#2a419c"/>
<circle cx="468.7" cy="147.6" r="0.85" fill="#2a419c"/>
<circle cx="469.8" cy="157.5" r="0.85" fill="#2a419c"/>
<circle cx="470.9" cy="159.1" r="0.85" fill="#2a419c"/>
<circle cx="472.0" cy="153.9" r="0.85" fill="#2a419c"/>
<circle cx="473.1" cy="153.3" r="0.85" fill="#2a419c"/>
<circle cx="474.2" cy="162.4" r="0.85" fill="#2a419c"/>
<circle cx="475.3" cy="145.6" r="0.85" fill="#2a419c"/>
<circle cx="476.4" cy="160.4" r="0.85" fill="#2a419c"/>
<circle cx="477.5" cy="162.1" r="0.85" fill="#2a419c"/>
<circle cx="478.6" cy="166.2" r="0.85" fill="#2a419c"/>
<circle cx="479.7" cy="158.4" r="0.85" fill="#2a419c"/>
<circle cx="480.8" cy="159.3" r="0.85" fill="#2a419c"/>
<circle cx="481.9" cy="174.6" r="0.85" fill="#2a419c"/>
<circle cx="482.9" cy="167.8" r="0.85" fill="#2a419c"/>
<circle cx="484.0" cy="161.2" r="0.85" fill="#2a419c"/>
<circle cx="485.1" cy="160.5" r="0.85" fill="#2a419c"/>
<circle cx="486.2" cy="167.6" r="0.85" fill="#2a419c"/>
<circle cx="487.3" cy="163.4" r="0.85" fill="#2a419c"/>
<circle cx="488.4" cy="169.1" r="0.85" fill="#2a419c"/>
<circle cx="489.5" cy="174.7" r="0.85" fill="#2a419c"/>
<circle cx="490.6" cy="158.3" r="0.85" fill="#2a419c"/>
<circle cx="491.7" cy="170.1" r="0.85" fill="#2a419c"/>
<circle cx="492.8" cy="166.5" r="0.85" fill="#2a419c"/>
<circle cx="493.9" cy="154.9" r="0.85" fill="#2a419c"/>
<circle cx="495.0" cy="172.8" r="0.85" fill="#2a419c"/>
<circle cx="496.1" cy="160.1" r="0.85" fill="#2a419c"/>
<circle cx="497.2" cy="178.2" r="0.85" fill="#2a419c"/>
<circle cx="498.3" cy="178.5" r="0.85" fill="#2a419c"/>
<circle cx="499.4" cy="162.6" r="0.85" fill="#2a419c"/>
<circle cx="500.5" cy="170.5" r="0.85" fill="#2a419c"/>
<circle cx="501.6" cy="170.5" r="0.85" fill="#2a419c"/>
<circle cx="502.7" cy="166.5" r="0.85" fill="#2a419c"/>
<circle cx="503.8" cy="175.6" r="0.85" fill="#2a419c"/>
<circle cx="504.9" cy="160.7" r="0.85" fill="#2a419c"/>
<circle cx="506.0" cy="179.7" r="0.85" fill="#2a419c"/>
<circle cx="507.1" cy="165.9" r="0.85" fill="#2a419c"/>
<circle cx="508.2" cy="175.2" r="0.85" fill="#2a419c"/>
<circle cx="509.3" cy="178.3" r="0.85" fill="#2a419c"/>
<circle cx="510.4" cy="164.2" r="0.85" fill="#2a419c"/>
<circle cx="511.5" cy="159.6" r="0.85" fill="#2a419c"/>
<circle cx="512.6" cy="172.7" r="0.85" fill="#2a419c"/>
<circle cx="513.7" cy="172.9" r="0.85" fill="#2a419c"/>
<circle cx="514.8" cy="182.8" r="0.85" fill="#2a419c"/>
<circle cx="515.9" cy="164.0" r="0.85" fill="#2a419c"/>
<circle cx="517.0" cy="164.9" r="0.85" fill="#2a419c"/>
<circle cx="518.1" cy="177.1" r="0.85" fill="#2a419c"/>
<circle cx="519.1" cy="175.2" r="0.85" fill="#2a419c"/>
<circle cx="520.2" cy="183.2" r="0.85" fill="#2a419c"/>
<circle cx="521.3" cy="173.4" r="0.85" fill="#2a419c"/>
<circle cx="522.4" cy="176.4" r="0.85" fill="#2a419c"/>
<circle cx="523.5" cy="172.7" r="0.85" fill="#2a419c"/>
<circle cx="524.6" cy="166.5" r="0.85" fill="#2a419c"/>
<circle cx="525.7" cy="186.1" r="0.85" fill="#2a419c"/>
<circle cx="526.8" cy="178.5" r="0.85" fill="#2a419c"/>
<circle cx="527.9" cy="172.4" r="0.85" fill="#2a419c"/>
<circle cx="529.0" cy="169.9" r="0.85" fill="#2a419c"/>
<circle cx="530.1" cy="170.3" r="0.85" fill="#2a419c"/>
<circle cx="531.2" cy="179.7" r="0.85" fill="#2a419c"/>
<circle cx="532.3" cy="170.3" r="0.85" fill="#2a419c"/>
<circle cx="533.4" cy="168.9" r="0.85" fill="#2a419c"/>
<circle cx="534.5" cy="179.2" r="0.85" fill="#2a419c"/>
<circle cx="535.6" cy="176.3" r="0.85" fill="#2a419c"/>
<circle cx="536.7" cy="180.7" r="0.85" fill="#2a419c"/>
<circle cx="537.8" cy="174.4" r="0.85" fill="#2a419c"/>
<circle cx="538.9" cy="181.4" r="0.85" fill="#2a419c"/>
<circle cx="540.0" cy="181.2" r="0.85" fill="#2a419c"/>
<circle cx="541.1" cy="169.3" r="0.85" fill="#2a419c"/>
<circle cx="542.2" cy="175.2" r="0.85" fill="#2a419c"/>
<circle cx="543.3" cy="175.6" r="0.85" fill="#2a419c"/>
<circle cx="544.4" cy="179.4" r="0.85" fill="#2a419c"/>
<circle cx="545.5" cy="181.7" r="0.85" fill="#2a419c"/>
<circle cx="546.6" cy="174.1" r="0.85" fill="#2a419c"/>
<circle cx="547.7" cy="179.4" r="0.85" fill="#2a419c"/>
<circle cx="548.8" cy="175.7" r="0.85" fill="#2a419c"/>
<circle cx="549.9" cy="177.0" r="0.85" fill="#2a419c"/>
<circle cx="551.0" cy="183.7" r="0.85" fill="#2a419c"/>
<circle cx="552.1" cy="185.7" r="0.85" fill="#2a419c"/>
<circle cx="553.2" cy="172.9" r="0.85" fill="#2a419c"/>
<circle cx="554.3" cy="181.1" r="0.85" fill="#2a419c"/>
<circle cx="555.3" cy="183.8" r="0.85" fill="#2a419c"/>
<circle cx="556.4" cy="171.9" r="0.85" fill="#2a419c"/>
<circle cx="557.5" cy="180.9" r="0.85" fill="#2a419c"/>
<circle cx="558.6" cy="181.0" r="0.85" fill="#2a419c"/>
<circle cx="559.7" cy="183.0" r="0.85" fill="#2a419c"/>
<circle cx="560.8" cy="189.2" r="0.85" fill="#2a419c"/>
<circle cx="561.9" cy="190.3" r="0.85" fill="#2a419c"/>
<circle cx="563.0" cy="178.4" r="0.85" fill="#2a419c"/>
<circle cx="564.1" cy="171.0" r="0.85" fill="#2a419c"/>
<circle cx="565.2" cy="176.0" r="0.85" fill="#2a419c"/>
<circle cx="566.3" cy="192.1" r="0.85" fill="#2a419c"/>
<circle cx="567.4" cy="188.0" r="0.85" fill="#2a419c"/>
<circle cx="568.5" cy="172.8" r="0.85" fill="#2a419c"/>
<circle cx="569.6" cy="174.7" r="0.85" fill="#2a419c"/>
<circle cx="570.7" cy="184.8" r="0.85" fill="#2a419c"/>
<circle cx="571.8" cy="184.4" r="0.85" fill="#2a419c"/>
<circle cx="572.9" cy="189.2" r="0.85" fill="#2a419c"/>
<circle cx="574.0" cy="179.1" r="0.85" fill="#2a419c"/>
<circle cx="575.1" cy="163.8" r="0.85" fill="#2a419c"/>
<circle cx="576.2" cy="194.6" r="0.85" fill="#2a419c"/>
<circle cx="577.3" cy="189.3" r="0.85" fill="#2a419c"/>
<circle cx="578.4" cy="179.1" r="0.85" fill="#2a419c"/>
<circle cx="579.5" cy="176.7" r="0.85" fill="#2a419c"/>
<circle cx="580.6" cy="194.5" r="0.85" fill="#2a419c"/>
<circle cx="581.7" cy="185.1" r="0.85" fill="#2a419c"/>
<circle cx="582.8" cy="182.6" r="0.85" fill="#2a419c"/>
<circle cx="583.9" cy="182.4" r="0.85" fill="#2a419c"/>
<circle cx="585.0" cy="190.0" r="0.85" fill="#2a419c"/>
<circle cx="586.1" cy="181.4" r="0.85" fill="#2a419c"/>
<circle cx="587.2" cy="195.0" r="0.85" fill="#2a419c"/>
<circle cx="588.3" cy="178.5" r="0.85" fill="#2a419c"/>
<circle cx="589.4" cy="176.7" r="0.85" fill="#2a419c"/>
<circle cx="590.5" cy="181.6" r="0.85" fill="#2a419c"/>
<circle cx="591.6" cy="183.0" r="0.85" fill="#2a419c"/>
<circle cx="592.6" cy="187.4" r="0.85" fill="#2a419c"/>
<circle cx="593.7" cy="190.2" r="0.85" fill="#2a419c"/>
<circle cx="594.8" cy="180.0" r="0.85" fill="#2a419c"/>
<circle cx="595.9" cy="187.6" r="0.85" fill="#2a419c"/>
<circle cx="597.0" cy="176.8" r="0.85" fill="#2a419c"/>
<circle cx="598.1" cy="181.7" r="0.85" fill="#2a419c"/>
<circle cx="599.2" cy="177.1" r="0.85" fill="#2a419c"/>
<circle cx="600.3" cy="189.6" r="0.85" fill="#2a419c"/>
<circle cx="601.4" cy="193.5" r="0.85" fill="#2a419c"/>
<circle cx="602.5" cy="186.9" r="0.85" fill="#2a419c"/>
<circle cx="603.6" cy="177.6" r="0.85" fill="#2a419c"/>
<circle cx="604.7" cy="195.9" r="0.85" fill="#2a419c"/>
<circle cx="605.8" cy="193.3" r="0.85" fill="#2a419c"/>
<circle cx="606.9" cy="186.9" r="0.85" fill="#2a419c"/>
<circle cx="608.0" cy="193.0" r="0.85" fill="#2a419c"/>
<circle cx="609.1" cy="171.2" r="0.85" fill="#2a419c"/>
<circle cx="610.2" cy="187.2" r="0.85" fill="#2a419c"/>
<circle cx="611.3" cy="181.2" r="0.85" fill="#2a419c"/>
<circle cx="612.4" cy="180.5" r="0.85" fill="#2a419c"/>
<circle cx="613.5" cy="192.5" r="0.85" fill="#2a419c"/>
<circle cx="614.6" cy="183.2" r="0.85" fill="#2a419c"/>
<circle cx="615.7" cy="183.4" r="0.85" fill="#2a419c"/>
<circle cx="616.8" cy="186.5" r="0.85" fill="#2a419c"/>
<circle cx="617.9" cy="185.1" r="0.85" fill="#2a419c"/>
<circle cx="619.0" cy="189.2" r="0.85" fill="#2a419c"/>
<circle cx="620.1" cy="192.8" r="0.85" fill="#2a419c"/>
<circle cx="621.2" cy="178.1" r="0.85" fill="#2a419c"/>
<circle cx="622.3" cy="181.1" r="0.85" fill="#2a419c"/>
<circle cx="623.4" cy="187.1" r="0.85" fill="#2a419c"/>
<circle cx="624.5" cy="194.4" r="0.85" fill="#2a419c"/>
<circle cx="625.6" cy="192.2" r="0.85" fill="#2a419c"/>
<circle cx="626.7" cy="191.2" r="0.85" fill="#2a419c"/>
<circle cx="627.8" cy="184.5" r="0.85" fill="#2a419c"/>
<circle cx="409.8" cy="64.0" r="0.85" fill="#2a419c"/>
<circle cx="410.2" cy="81.1" r="0.85" fill="#2a419c"/>
<polygon points="409.34,75.92 411.52,79.40 413.70,82.81 415.88,86.15 418.06,89.40 420.24,92.57 422.42,95.66 424.60,98.65 426.79,101.55 428.97,104.34 431.15,107.04 433.33,109.62 435.51,112.09 437.69,114.46 439.87,116.77 442.05,119.01 444.23,121.20 446.41,123.32 448.59,125.38 450.77,127.37 452.96,129.28 455.14,131.12 457.32,132.88 459.50,134.57 461.68,136.17 463.86,137.69 466.04,139.14 468.22,140.54 470.40,141.90 472.58,143.21 474.76,144.48 476.94,145.70 479.13,146.87 481.31,148.00 483.49,149.08 485.67,150.12 487.85,151.11 490.03,152.06 492.21,152.97 494.39,153.84 496.57,154.68 498.75,155.48 500.93,156.26 503.11,157.01 505.30,157.74 507.48,158.44 509.66,159.12 511.84,159.78 514.02,160.42 516.20,161.05 518.38,161.67 520.56,162.28 522.74,162.88 524.92,163.49 527.10,164.09 529.28,164.69 531.47,165.28 533.65,165.86 535.83,166.44 538.01,167.02 540.19,167.58 542.37,168.13 544.55,168.67 546.73,169.20 548.91,169.72 551.09,170.22 553.27,170.71 555.45,171.19 557.64,171.64 559.82,172.08 562.00,172.50 564.18,172.90 566.36,173.28 568.54,173.64 570.72,173.98 572.90,174.29 575.08,174.58 577.26,174.87 579.44,175.16 581.62,175.44 583.81,175.73 585.99,176.00 588.17,176.27 590.35,176.54 592.53,176.79 594.71,177.04 596.89,177.29 599.07,177.52 601.25,177.75 603.43,177.97 605.61,178.17 607.79,178.37 609.98,178.55 612.16,178.73 614.34,178.89 616.52,179.04 618.70,179.17 620.88,179.29 623.06,179.40 625.24,179.49 627.42,179.57 627.42,193.86 625.24,193.79 623.06,193.70 620.88,193.61 618.70,193.50 616.52,193.38 614.34,193.25 612.16,193.11 609.98,192.96 607.79,192.80 605.61,192.63 603.43,192.46 601.25,192.27 599.07,192.08 596.89,191.88 594.71,191.68 592.53,191.47 590.35,191.25 588.17,191.03 585.99,190.80 583.81,190.57 581.62,190.33 579.44,190.09 577.26,189.85 575.08,189.60 572.90,189.36 570.72,189.09 568.54,188.81 566.36,188.52 564.18,188.20 562.00,187.87 559.82,187.53 557.64,187.17 555.45,186.80 553.27,186.41 551.09,186.02 548.91,185.61 546.73,185.19 544.55,184.76 542.37,184.31 540.19,183.87 538.01,183.41 535.83,182.94 533.65,182.47 531.47,181.99 529.28,181.51 527.10,181.02 524.92,180.53 522.74,180.03 520.56,179.53 518.38,179.03 516.20,178.52 514.02,178.00 511.84,177.46 509.66,176.91 507.48,176.34 505.30,175.75 503.11,175.15 500.93,174.52 498.75,173.87 496.57,173.20 494.39,172.50 492.21,171.78 490.03,171.03 487.85,170.25 485.67,169.44 483.49,168.60 481.31,167.72 479.13,166.81 476.94,165.86 474.76,164.88 472.58,163.85 470.40,162.79 468.22,161.69 466.04,160.55 463.86,159.37 461.68,158.12 459.50,156.81 457.32,155.42 455.14,153.96 452.96,152.43 450.77,150.85 448.59,149.20 446.41,147.50 444.23,145.75 442.05,143.95 439.87,142.10 437.69,140.22 435.51,138.29 433.33,136.29 431.15,134.20 428.97,132.04 426.79,129.80 424.60,127.48 422.42,125.10 420.24,122.64 418.06,120.13 415.88,117.55 413.70,114.91 411.52,112.21 409.34,109.46" fill="#42579c" fill-opacity="0.38"/>
<polyline points="409.34,92.69 411.52,95.81 413.70,98.86 415.88,101.85 418.06,104.76 420.24,107.61 422.42,110.38 424.60,113.07 426.79,115.67 428.97,118.19 431.15,120.62 433.33,122.95 435.51,125.19 437.69,127.34 439.87,129.43 442.05,131.48 444.23,133.47 446.41,135.41 448.59,137.29 450.77,139.11 452.96,140.86 455.14,142.54 457.32,144.15 459.50,145.69 461.68,147.15 463.86,148.53 466.04,149.84 468.22,151.12 470.40,152.35 472.58,153.53 474.76,154.68 476.94,155.78 479.13,156.84 481.31,157.86 483.49,158.84 485.67,159.78 487.85,160.68 490.03,161.55 492.21,162.37 494.39,163.17 496.57,163.94 498.75,164.68 500.93,165.39 503.11,166.08 505.30,166.74 507.48,167.39 509.66,168.01 511.84,168.62 514.02,169.21 516.20,169.79 518.38,170.35 520.56,170.90 522.74,171.46 524.92,172.01 527.10,172.55 529.28,173.10 531.47,173.64 533.65,174.17 535.83,174.69 538.01,175.21 540.19,175.72 542.37,176.22 544.55,176.71 546.73,177.19 548.91,177.66 551.09,178.12 553.27,178.56 555.45,178.99 557.64,179.41 559.82,179.81 562.00,180.19 564.18,180.55 566.36,180.90 568.54,181.23 570.72,181.53 572.90,181.82 575.08,182.09 577.26,182.36 579.44,182.63 581.62,182.89 583.81,183.15 585.99,183.40 588.17,183.65 590.35,183.89 592.53,184.13 594.71,184.36 596.89,184.59 599.07,184.80 601.25,185.01 603.43,185.21 605.61,185.40 607.79,185.59 609.98,185.76 612.16,185.92 614.34,186.07 616.52,186.21 618.70,186.34 620.88,186.45 623.06,186.55 625.24,186.64 627.42,186.71" fill="none" stroke="#3d55a0" stroke-width="0.7"/>
<line x1="398.6" y1="1" x2="398.6" y2="219.8" stroke="#757575" stroke-width="0.9"/>
<line x1="398.20000000000005" y1="219.4" x2="638.9" y2="219.4" stroke="#757575" stroke-width="0.9"/>
<line x1="397.0" y1="47.40" x2="398.6" y2="47.40" stroke="#555" stroke-width="0.5"/>
<text class="tick" x="395.8" y="49.75" text-anchor="end">1400</text>
<line x1="397.0" y1="98.44" x2="398.6" y2="98.44" stroke="#555" stroke-width="0.5"/>
<text class="tick" x="395.8" y="100.79" text-anchor="end">1200</text>
<line x1="397.0" y1="149.48" x2="398.6" y2="149.48" stroke="#555" stroke-width="0.5"/>
<text class="tick" x="395.8" y="151.83" text-anchor="end">1000</text>
<line x1="397.0" y1="200.52" x2="398.6" y2="200.52" stroke="#555" stroke-width="0.5"/>
<text class="tick" x="395.8" y="202.87" text-anchor="end">800</text>
<line x1="408.90" y1="219.4" x2="408.90" y2="221.0" stroke="#555" stroke-width="0.5"/>
<text class="tick" x="408.90" y="226.9" text-anchor="middle">0</text>
<line x1="463.75" y1="219.4" x2="463.75" y2="221.0" stroke="#555" stroke-width="0.5"/>
<text class="tick" x="463.75" y="226.9" text-anchor="middle">500</text>
<line x1="518.60" y1="219.4" x2="518.60" y2="221.0" stroke="#555" stroke-width="0.5"/>
<text class="tick" x="518.60" y="226.9" text-anchor="middle">1000</text>
<line x1="573.45" y1="219.4" x2="573.45" y2="221.0" stroke="#555" stroke-width="0.5"/>
<text class="tick" x="573.45" y="226.9" text-anchor="middle">1500</text>
<line x1="628.30" y1="219.4" x2="628.30" y2="221.0" stroke="#555" stroke-width="0.5"/>
<text class="tick" x="628.30" y="226.9" text-anchor="middle">2000</text>
<text class="ttl" x="519.2" y="235.6" text-anchor="middle">Trial</text>
<text class="ttl" transform="translate(378.4,110.2) rotate(-90)" text-anchor="middle">RT</text>
<text class="ttl" x="646.5" y="105.6">Location</text>
<rect x="646" y="108" width="7" height="7.4" fill="#f2f2f2"/>
<line x1="646.6" y1="111.7" x2="652.4" y2="111.7" stroke="#c4c4c4" stroke-width="0.6"/>
<circle cx="649.5" cy="111.7" r="0.6" fill="#c4c4c4"/>
<rect x="646" y="115.4" width="7" height="7.4" fill="#40559a" fill-opacity="0.3"/>
<line x1="646.6" y1="119.1" x2="652.4" y2="119.1" stroke="#3551a8" stroke-width="0.6"/>
<circle cx="649.5" cy="119.1" r="0.7" fill="#3551a8"/>
<text class="leg" x="655.7" y="114.6">Scarce</text>
<text class="leg" x="655.7" y="121.7">Rich</text>
<line x1="398.5" y1="242" x2="398.5" y2="460.59999999999997" stroke="#757575" stroke-width="0.9"/>
<line x1="398.1" y1="460.2" x2="642.4" y2="460.2" stroke="#757575" stroke-width="0.9"/>
<line x1="396.9" y1="247.90" x2="398.5" y2="247.90" stroke="#555" stroke-width="0.5"/>
<text class="tick" x="395.7" y="250.25" text-anchor="end">960</text>
<line x1="396.9" y1="308.30" x2="398.5" y2="308.30" stroke="#555" stroke-width="0.5"/>
<text class="tick" x="395.7" y="310.65" text-anchor="end">920</text>
<line x1="396.9" y1="368.70" x2="398.5" y2="368.70" stroke="#555" stroke-width="0.5"/>
<text class="tick" x="395.7" y="371.05" text-anchor="end">880</text>
<line x1="396.9" y1="429.10" x2="398.5" y2="429.10" stroke="#555" stroke-width="0.5"/>
<text class="tick" x="395.7" y="431.45" text-anchor="end">840</text>
<line x1="465.00" y1="460.2" x2="465.00" y2="461.8" stroke="#555" stroke-width="0.5"/>
<text class="tick" x="465.00" y="467.6" text-anchor="middle">First Half</text>
<line x1="576.30" y1="460.2" x2="576.30" y2="461.8" stroke="#555" stroke-width="0.5"/>
<text class="tick" x="576.30" y="467.6" text-anchor="middle">Second Half</text>
<text class="ttl" x="520.8" y="476.7" text-anchor="middle" style="font-size:8.95px">Time on task</text>
<text class="ttl" transform="translate(382.3,351) rotate(-90)" text-anchor="middle">RT</text>
<line x1="446.2" y1="278.8" x2="461.2" y2="278.8" stroke="#b4c2d0" stroke-width="0.7"/>
<line x1="446.2" y1="286.5" x2="461.2" y2="286.5" stroke="#73849a" stroke-width="0.7"/>
<line x1="453.7" y1="278.8" x2="453.7" y2="286.5" stroke="#c2ccd8" stroke-width="0.6"/>
<circle cx="453.7" cy="282.8" r="1.25" fill="#2d48a0"/>
<line x1="468.5" y1="268.5" x2="483.5" y2="268.5" stroke="#e0e0e0" stroke-width="0.7"/>
<line x1="468.5" y1="284.1" x2="483.5" y2="284.1" stroke="#d9d9d9" stroke-width="0.7"/>
<line x1="476.0" y1="268.5" x2="476.0" y2="284.1" stroke="#d9d9d9" stroke-width="0.6"/>
<circle cx="476.0" cy="276.4" r="1.25" fill="#b9b9b9"/>
<line x1="557.6" y1="444.5" x2="572.6" y2="444.5" stroke="#8a9bb0" stroke-width="0.7"/>
<line x1="557.6" y1="450.4" x2="572.6" y2="450.4" stroke="#8a9bb0" stroke-width="0.7"/>
<line x1="565.1" y1="444.5" x2="565.1" y2="450.4" stroke="#c2ccd8" stroke-width="0.6"/>
<circle cx="565.1" cy="447.5" r="1.25" fill="#2d48a0"/>
<line x1="579.9" y1="438.0" x2="594.9" y2="438.0" stroke="#e2e2e2" stroke-width="0.7"/>
<line x1="579.9" y1="449.4" x2="594.9" y2="449.4" stroke="#cdcdcd" stroke-width="0.7"/>
<line x1="587.4" y1="438.0" x2="587.4" y2="449.4" stroke="#d6d6d6" stroke-width="0.6"/>
<circle cx="587.4" cy="443.5" r="1.25" fill="#b9b9b9"/>
<polyline points="453.4,253.7 453.4,251.4 476.5,251.4 476.5,253.7" fill="none" stroke="#707070" stroke-width="0.6" stroke-linejoin="round"/>
<text x="464.9" y="249.7" text-anchor="middle" font-size="7.6" fill="#151515">ns</text>
<polyline points="564.8,426.0 564.8,423.7 587.5,423.7 587.5,426.0" fill="none" stroke="#707070" stroke-width="0.6" stroke-linejoin="round"/>
<text x="576.1" y="422.0" text-anchor="middle" font-size="7.6" fill="#151515">ns</text>
<text class="ttl" x="646.5" y="346">Location</text>
<line x1="646.8" y1="352.7" x2="653" y2="352.7" stroke="#8a9bb0" stroke-width="0.6"/>
<circle cx="649.9" cy="352.7" r="1.2" fill="#2d48a0"/>
<line x1="646.8" y1="360.1" x2="653" y2="360.1" stroke="#dcdcdc" stroke-width="0.6"/>
<circle cx="649.9" cy="360.1" r="1.2" fill="#b9b9b9"/>
<text class="leg" x="655.7" y="355.3">Rich</text>
<text class="leg" x="655.7" y="362.7">Scarce</text>
</svg>
</body>
</html>
